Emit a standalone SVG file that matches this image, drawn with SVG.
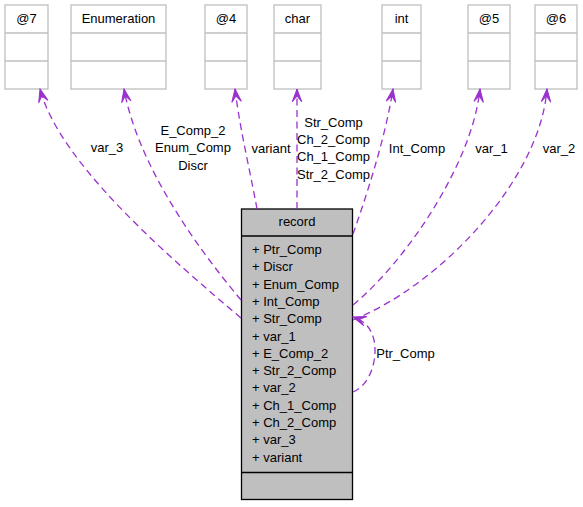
<svg xmlns="http://www.w3.org/2000/svg" width="583" height="507" viewBox="0 0 583 507">
<style>
.box{fill:#ffffff;stroke:#bfbfbf;stroke-width:1.3}
.rec{fill:#bfbfbf;stroke:#000000;stroke-width:1.3}
.t{font-family:"Liberation Sans",Arial,Helvetica,sans-serif;font-size:13px;fill:#000000}
.c{text-anchor:middle}
.e{fill:none;stroke:#9a32cd;stroke-width:1.3;stroke-dasharray:7,4.5;marker-end:url(#vee)}
</style>
<defs>
<marker id="vee" markerUnits="userSpaceOnUse" viewBox="-14 -6 15 12" refX="0" refY="0" markerWidth="15" markerHeight="12" orient="auto">
<path d="M0,0 L-13,-4.8 L-7,0 L-13,4.8 Z" fill="#9a32cd" stroke="#9a32cd" stroke-width="1"/>
</marker>
</defs>
<rect width="583" height="507" fill="#ffffff"/>
<g id="n_at7">
<rect class="box" x="5" y="5" width="43" height="84"/>
<line class="box" x1="5" y1="33" x2="48" y2="33"/>
<line class="box" x1="5" y1="61" x2="48" y2="61"/>
<text class="t c" x="26.5" y="23">@7</text>
</g>
<g id="n_enum">
<rect class="box" x="71" y="5" width="95" height="84"/>
<line class="box" x1="71" y1="33" x2="166" y2="33"/>
<line class="box" x1="71" y1="61" x2="166" y2="61"/>
<text class="t c" x="118.5" y="23">Enumeration</text>
</g>
<g id="n_at4">
<rect class="box" x="205" y="5" width="42" height="84"/>
<line class="box" x1="205" y1="33" x2="247" y2="33"/>
<line class="box" x1="205" y1="61" x2="247" y2="61"/>
<text class="t c" x="226" y="23">@4</text>
</g>
<g id="n_char">
<rect class="box" x="274" y="5" width="47" height="84"/>
<line class="box" x1="274" y1="33" x2="321" y2="33"/>
<line class="box" x1="274" y1="61" x2="321" y2="61"/>
<text class="t c" x="297.5" y="23">char</text>
</g>
<g id="n_int">
<rect class="box" x="382" y="5" width="39" height="84"/>
<line class="box" x1="382" y1="33" x2="421" y2="33"/>
<line class="box" x1="382" y1="61" x2="421" y2="61"/>
<text class="t c" x="401.5" y="23">int</text>
</g>
<g id="n_at5">
<rect class="box" x="468" y="5" width="42" height="84"/>
<line class="box" x1="468" y1="33" x2="510" y2="33"/>
<line class="box" x1="468" y1="61" x2="510" y2="61"/>
<text class="t c" x="489" y="23">@5</text>
</g>
<g id="n_at6">
<rect class="box" x="535" y="5" width="42" height="84"/>
<line class="box" x1="535" y1="33" x2="577" y2="33"/>
<line class="box" x1="535" y1="61" x2="577" y2="61"/>
<text class="t c" x="556" y="23">@6</text>
</g>
<g id="n_record">
<rect class="rec" x="241.5" y="209" width="111" height="290.5"/>
<line class="rec" x1="241.5" y1="236" x2="352.5" y2="236"/>
<line class="rec" x1="241.5" y1="472.5" x2="352.5" y2="472.5"/>
<text class="t c" x="297" y="226">record</text>
<text class="t" x="252" y="254">+ Ptr_Comp</text>
<text class="t" x="252" y="271.3">+ Discr</text>
<text class="t" x="252" y="288.6">+ Enum_Comp</text>
<text class="t" x="252" y="305.9">+ Int_Comp</text>
<text class="t" x="252" y="323.2">+ Str_Comp</text>
<text class="t" x="252" y="340.5">+ var_1</text>
<text class="t" x="252" y="357.8">+ E_Comp_2</text>
<text class="t" x="252" y="375.1">+ Str_2_Comp</text>
<text class="t" x="252" y="392.4">+ var_2</text>
<text class="t" x="252" y="409.7">+ Ch_1_Comp</text>
<text class="t" x="252" y="427">+ Ch_2_Comp</text>
<text class="t" x="252" y="444.3">+ var_3</text>
<text class="t" x="252" y="461.6">+ variant</text>
</g>
<g id="connectors">
<path class="e" d="M241,318 C175,262 60,165 40,89"/>
<path class="e" d="M241,300 C195,245 138,165 124,89"/>
<path class="e" d="M257,209 C250,170 240,130 235,89"/>
<path class="e" d="M297,209 L297,89"/>
<path class="e" d="M353,234 C365,200 385,140 393,89"/>
<path class="e" d="M353,305 C405,262 472,165 480,89"/>
<path class="e" d="M353,320 C440,285 540,180 547,89"/>
<path class="e" d="M353,392 C370,385 378,360 374,340 C371,328 365,321 353,317"/>
<text class="t c" x="107" y="152">var_3</text>
<text class="t c" x="193" y="135">E_Comp_2</text>
<text class="t c" x="193" y="152.3">Enum_Comp</text>
<text class="t c" x="193" y="169.6">Discr</text>
<text class="t c" x="271" y="152.5">variant</text>
<text class="t c" x="333.5" y="126.7">Str_Comp</text>
<text class="t c" x="333.5" y="144">Ch_2_Comp</text>
<text class="t c" x="333.5" y="161.3">Ch_1_Comp</text>
<text class="t c" x="333.5" y="178.6">Str_2_Comp</text>
<text class="t c" x="417" y="152.5">Int_Comp</text>
<text class="t c" x="491.5" y="152.5">var_1</text>
<text class="t c" x="559" y="152.5">var_2</text>
<text class="t c" x="405.5" y="358.3">Ptr_Comp</text>
</g>
</svg>
